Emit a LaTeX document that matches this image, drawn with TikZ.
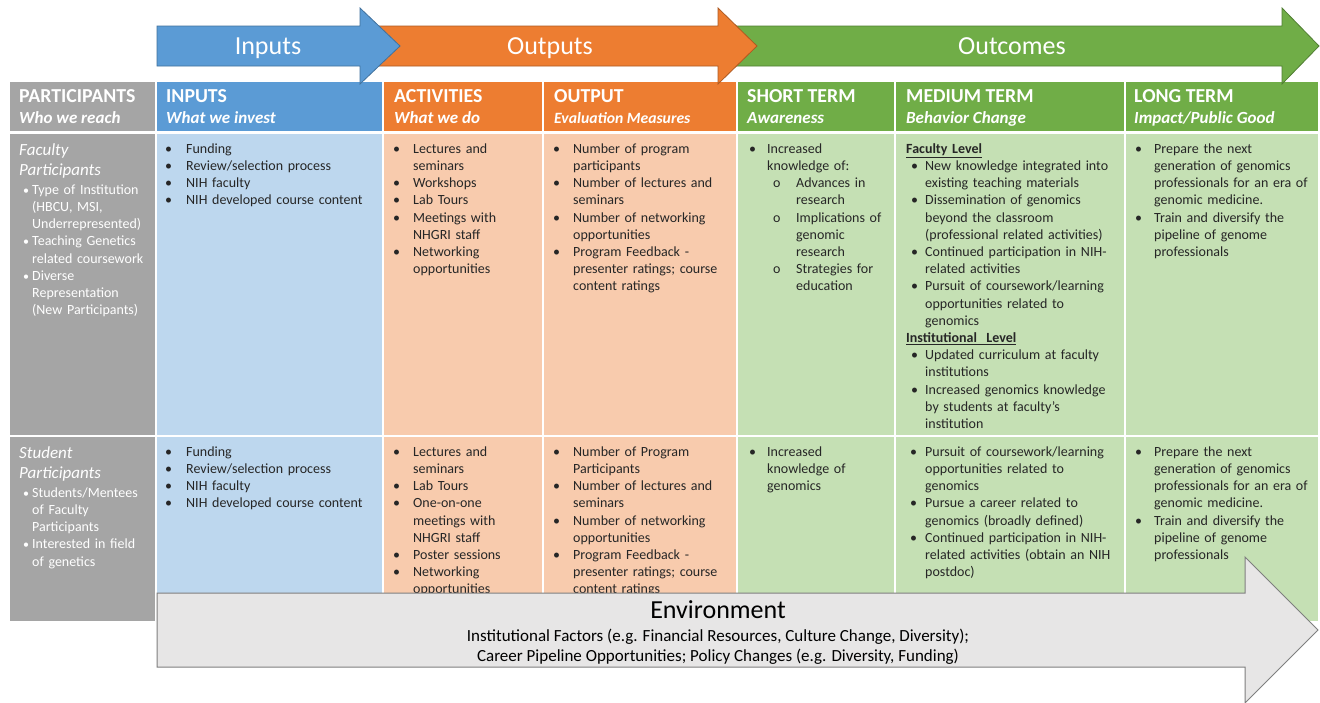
\documentclass[tikz,border=0pt]{standalone}
\usepackage{fontspec}
\setmainfont{Carlito}
\definecolor{cGray}{HTML}{A5A5A5}
\definecolor{cBlue}{HTML}{5B9BD5}
\definecolor{cBlueL}{HTML}{BDD7EE}
\definecolor{cBlueD}{HTML}{41719C}
\definecolor{cOrange}{HTML}{ED7D31}
\definecolor{cOrangeL}{HTML}{F8CBAD}
\definecolor{cOrangeD}{HTML}{AE5A21}
\definecolor{cGreen}{HTML}{70AD47}
\definecolor{cGreenL}{HTML}{C5E0B4}
\definecolor{cGreenD}{HTML}{507E32}
\definecolor{cEnv}{HTML}{E7E6E6}
\definecolor{cEnvD}{HTML}{7F7F7F}
\definecolor{cTxt}{HTML}{262626}
\newcommand\bb[1]{\makebox[#1][l]{\textbullet}}
\newcommand\ind[1]{\hspace*{#1}}
\newcommand\fl{\rule{0pt}{12pt}}
\newcommand\pb{\ind{4pt}\makebox[9pt][l]{\fontsize{12}{12}\selectfont\textbullet}}
\begin{document}
\begin{tikzpicture}[x=1pt,y=-1pt,
  hdr/.style={anchor=base west, inner sep=0pt, text=white, font=\fontsize{19.8}{22}\selectfont\bfseries},
  sub/.style={anchor=base west, inner sep=0pt, text=white, font=\fontsize{17}{20}\selectfont\bfseries\itshape},
  body/.style={anchor=north west, inner sep=0pt, text=cTxt, font=\fontsize{14}{17.2}\selectfont, text width=240pt, align=left},
  pbody/.style={body, text=white},
  bigarrow/.style={line width=0.8pt},
  arrtext/.style={text=white, font=\fontsize{26}{28}\selectfont, anchor=base, inner sep=0pt},
  envtext/.style={anchor=base, inner sep=0pt, text=black, font=\fontsize{17}{20}\selectfont}
]
\useasboundingbox (0,0) rectangle (1320,702);
\fill[white] (0,0) rectangle (1320,702);
% header cells
\fill[cGray] (10,82) rectangle (155,131);
\fill[cBlue] (157,82) rectangle (382,131);
\fill[cOrange] (384,82) rectangle (542,131);
\fill[cOrange] (544,82) rectangle (736,131);
\fill[cGreen] (738,82) rectangle (894,131);
\fill[cGreen] (896,82) rectangle (1124,131);
\fill[cGreen] (1126,82) rectangle (1318,131);
% row 1 cells
\fill[cGray] (10,134) rectangle (155,435);
\fill[cBlueL] (157,134) rectangle (382,435);
\fill[cOrangeL] (384,134) rectangle (542,435);
\fill[cOrangeL] (544,134) rectangle (736,435);
\fill[cGreenL] (738,134) rectangle (894,435);
\fill[cGreenL] (896,134) rectangle (1124,435);
\fill[cGreenL] (1126,134) rectangle (1318,435);
% row 2 cells
\fill[cGray] (10,437) rectangle (155,621);
\fill[cBlueL] (157,437) rectangle (382,621);
\fill[cOrangeL] (384,437) rectangle (542,621);
\fill[cOrangeL] (544,437) rectangle (736,621);
\fill[cGreenL] (738,437) rectangle (894,621);
\fill[cGreenL] (896,437) rectangle (1124,621);
\fill[cGreenL] (1126,437) rectangle (1318,621);
% top arrows
\filldraw[fill=cGreen, draw=cGreenD, bigarrow] (728,26) -- (1282,26) -- (1282,8) -- (1319,46) -- (1282,84) -- (1282,66) -- (728,66) -- cycle;
\filldraw[fill=cOrange, draw=cOrangeD, bigarrow] (370,26) -- (718,26) -- (718,8) -- (757,46) -- (718,84) -- (718,66) -- (370,66) -- cycle;
\filldraw[fill=cBlue, draw=cBlueD, bigarrow] (157,26) -- (360,26) -- (360,8) -- (400,46) -- (360,84) -- (360,66) -- (157,66) -- cycle;
\node[arrtext] (tInputs) at (268,54) {Inputs};
\node[arrtext] (tOutputs) at (550,54) {Outputs};
\node[arrtext] (tOutcomes) at (1012,54) {Outcomes};
% headers
\node[hdr] (hP) at (19,102) {PARTICIPANTS};
\node[sub] (sP) at (19,123) {Who we reach};
\node[hdr] (hI) at (166,102) {INPUTS};
\node[sub] (sI) at (166,123) {What we invest};
\node[hdr] (hA) at (394,102) {ACTIVITIES};
\node[sub] (sA) at (394,123) {What we do};
\node[hdr] (hO) at (554,102) {OUTPUT};
\node[sub,font=\fontsize{15.7}{18}\selectfont\bfseries\itshape] (sO) at (554,123) {Evaluation Measures};
\node[hdr] (hS) at (747,102) {SHORT TERM};
\node[sub] (sS) at (747,123) {Awareness};
\node[hdr] (hM) at (906,102) {MEDIUM TERM};
\node[sub] (sM) at (906,123) {Behavior Change};
\node[hdr] (hL) at (1134,102) {LONG TERM};
\node[sub] (sL) at (1134,123) {Impact/Public Good};
% row 1 text
\node[pbody] (p1) at (19,141) {{\fontsize{17}{20}\selectfont\itshape\rule{0pt}{14pt}Faculty\\[2.8pt]
Participants}\\[1.8pt]
\pb Type of Institution\\
\ind{13pt}(HBCU, MSI,\\
\ind{13pt}Underrepresented)\\
\pb Teaching Genetics\\
\ind{13pt}related coursework\\
\pb Diverse\\
\ind{13pt}Representation\\
\ind{13pt}(New Participants)};
\node[body] (i1) at (165,141) {\fl\bb{21pt}Funding\\
\bb{21pt}Review/selection process\\
\bb{21pt}NIH faculty\\
\bb{21pt}NIH developed course content};
\node[body] (a1) at (393,141) {\fl\bb{20pt}Lectures and\\
\ind{20pt}seminars\\
\bb{20pt}Workshops\\
\bb{20pt}Lab Tours\\
\bb{20pt}Meetings with\\
\ind{20pt}NHGRI staff\\
\bb{20pt}Networking\\
\ind{20pt}opportunities};
\node[body] (o1) at (553,141) {\fl\bb{20pt}Number of program\\
\ind{20pt}participants\\
\bb{20pt}Number of lectures and\\
\ind{20pt}seminars\\
\bb{20pt}Number of networking\\
\ind{20pt}opportunities\\
\bb{20pt}Program Feedback -\\
\ind{20pt}presenter ratings; course\\
\ind{20pt}content ratings};
\node[body] (s1) at (749,141) {\fl\bb{18pt}Increased\\
\ind{18pt}knowledge of:\\
\ind{24pt}\makebox[23pt][l]{o}Advances in\\
\ind{47pt}research\\
\ind{24pt}\makebox[23pt][l]{o}Implications of\\
\ind{47pt}genomic\\
\ind{47pt}research\\
\ind{24pt}\makebox[23pt][l]{o}Strategies for\\
\ind{47pt}education};
\node[body] (m1) at (906,141) {\fl\underline{\textbf{Faculty Level}}\\
\ind{5pt}\bb{14pt}New knowledge integrated into\\
\ind{19pt}existing teaching materials\\
\ind{5pt}\bb{14pt}Dissemination of genomics\\
\ind{19pt}beyond the classroom\\
\ind{19pt}(professional related activities)\\
\ind{5pt}\bb{14pt}Continued participation in NIH-\\
\ind{19pt}related activities\\
\ind{5pt}\bb{14pt}Pursuit of coursework/learning\\
\ind{19pt}opportunities related to\\
\ind{19pt}genomics\\
\underline{\textbf{Institutional\ \ Level}}\\
\ind{5pt}\bb{14pt}Updated curriculum at faculty\\
\ind{19pt}institutions\\
\ind{5pt}\bb{14pt}Increased genomics knowledge\\
\ind{19pt}by students at faculty’s\\
\ind{19pt}institution};
\node[body] (l1) at (1135,141) {\fl\bb{19pt}Prepare the next\\
\ind{19pt}generation of genomics\\
\ind{19pt}professionals for an era of\\
\ind{19pt}genomic medicine.\\
\bb{19pt}Train and diversify the\\
\ind{19pt}pipeline of genome\\
\ind{19pt}professionals};
% row 2 text
\node[pbody] (p2) at (19,444) {{\fontsize{17}{20}\selectfont\itshape\rule{0pt}{14pt}Student\\[2.8pt]
Participants}\\[1.8pt]
\pb Students/Mentees\\
\ind{13pt}of Faculty\\
\ind{13pt}Participants\\
\pb Interested in field\\
\ind{13pt}of genetics};
\node[body] (i2) at (165,444) {\fl\bb{21pt}Funding\\
\bb{21pt}Review/selection process\\
\bb{21pt}NIH faculty\\
\bb{21pt}NIH developed course content};
\node[body] (a2) at (393,444) {\fl\bb{20pt}Lectures and\\
\ind{20pt}seminars\\
\bb{20pt}Lab Tours\\
\bb{20pt}One-on-one\\
\ind{20pt}meetings with\\
\ind{20pt}NHGRI staff\\
\bb{20pt}Poster sessions\\
\bb{20pt}Networking\\
\ind{20pt}opportunities};
\node[body] (o2) at (553,444) {\fl\bb{20pt}Number of Program\\
\ind{20pt}Participants\\
\bb{20pt}Number of lectures and\\
\ind{20pt}seminars\\
\bb{20pt}Number of networking\\
\ind{20pt}opportunities\\
\bb{20pt}Program Feedback -\\
\ind{20pt}presenter ratings; course\\
\ind{20pt}content ratings};
\node[body] (s2) at (749,444) {\fl\bb{18pt}Increased\\
\ind{18pt}knowledge of\\
\ind{18pt}genomics};
\node[body] (m2) at (906,444) {\fl\ind{4pt}\bb{15pt}Pursuit of coursework/learning\\
\ind{19pt}opportunities related to\\
\ind{19pt}genomics\\
\ind{4pt}\bb{15pt}Pursue a career related to\\
\ind{19pt}genomics (broadly defined)\\
\ind{4pt}\bb{15pt}Continued participation in NIH-\\
\ind{19pt}related activities (obtain an NIH\\
\ind{19pt}postdoc)};
\node[body] (l2) at (1135,444) {\fl\bb{19pt}Prepare the next\\
\ind{19pt}generation of genomics\\
\ind{19pt}professionals for an era of\\
\ind{19pt}genomic medicine.\\
\bb{19pt}Train and diversify the\\
\ind{19pt}pipeline of genome\\
\ind{19pt}professionals};
% environment arrow
\filldraw[fill=cEnv, draw=cEnvD, line width=1pt] (157,593) -- (1245,593) -- (1245,557) -- (1318,630) -- (1245,703) -- (1245,667) -- (157,667) -- cycle;
\node[anchor=base, inner sep=0pt, text=black, font=\fontsize{26}{28}\selectfont] (envT) at (718,618) {Environment};
\node[envtext] (envA) at (718,641) {Institutional Factors (e.g. Financial Resources, Culture Change, Diversity);};
\node[envtext] (envB) at (718,661) {Career Pipeline Opportunities; Policy Changes (e.g. Diversity, Funding)};
\end{tikzpicture}
\end{document}
